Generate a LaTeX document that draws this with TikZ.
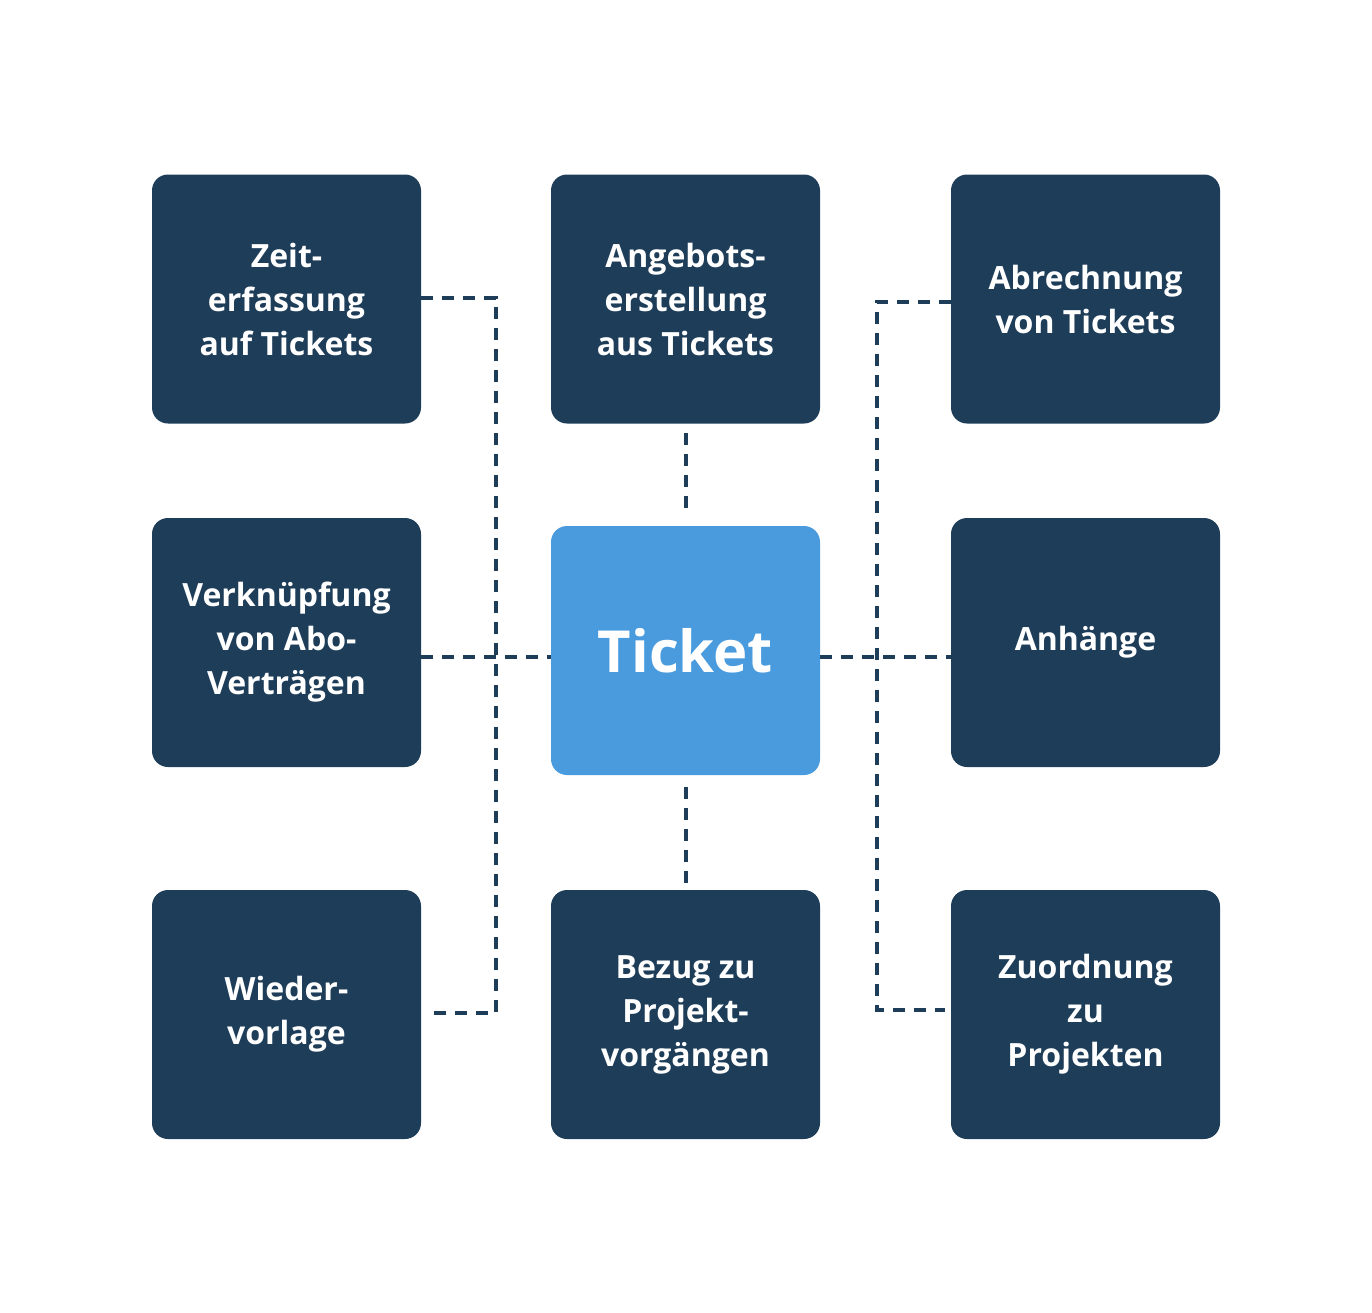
\documentclass[tikz,border=0pt]{standalone}
\usepackage{fontspec}
\setmainfont{Open Sans}
\definecolor{dk}{HTML}{1E3D59}
\definecolor{lb}{HTML}{4A9BDE}
\begin{document}
\begin{tikzpicture}[x=0.5pt,y=-0.5pt,
 box/.style={fill=dk,rounded corners=8pt,minimum width=134.5pt,minimum height=124.5pt,inner sep=0pt,text=white,font=\fontsize{16}{22}\selectfont\bfseries,align=center},
 dl/.style={draw=dk,line width=2pt,dash pattern=on 6pt off 4.5pt}]
\useasboundingbox (0,0) rectangle (1372,1313);
\node[box] (zeit) at (286.5,299) {Zeit-\\erfassung\\auf Tickets};
\node[box] (angebot) at (685.5,299) {Angebots-\\erstellung\\aus Tickets};
\node[box] (abr) at (1085.5,299) {Abrechnung\\von Tickets};
\node[box] (verk) at (286.5,642.5) {Verknüpfung\\von Abo-\\Verträgen};
\node[box,fill=lb,font=\fontsize{29}{34}\selectfont\bfseries] (ticket) at (685.5,650.5) {Ticket};
\node[box] (anh) at (1085.5,642.5) {Anhänge};
\node[box] (wied) at (286.5,1014.5) {Wieder-\\vorlage};
\node[box] (bezug) at (685.5,1014.5) {Bezug zu\\Projekt-\\vorgängen};
\node[box] (zuord) at (1085.5,1014.5) {Zuordnung\\zu\\Projekten};
\coordinate (l1) at (496,298); \coordinate (l2) at (496,1013);
\coordinate (r1) at (877,302); \coordinate (r2) at (877,1010);
\draw[dl] (zeit.east |- l1) -- (l1) -- (l2) -- ([xshift=3pt]wied.east |- l2);
\draw[dl] (abr.west |- r1) -- (r1) -- (r2) -- ([xshift=-3pt]zuord.west |- r2);
\draw[dl] (verk.east |- 0,657) -- (ticket.west |- 0,657);
\draw[dl] (ticket.east |- 0,657) -- (anh.west |- 0,657);
\draw[dl] ([yshift=-4.5pt]angebot.south) -- ([yshift=5.5pt]ticket.north);
\draw[dl] ([yshift=-6pt]ticket.south) -- (bezug.north);
\end{tikzpicture}
\end{document}
